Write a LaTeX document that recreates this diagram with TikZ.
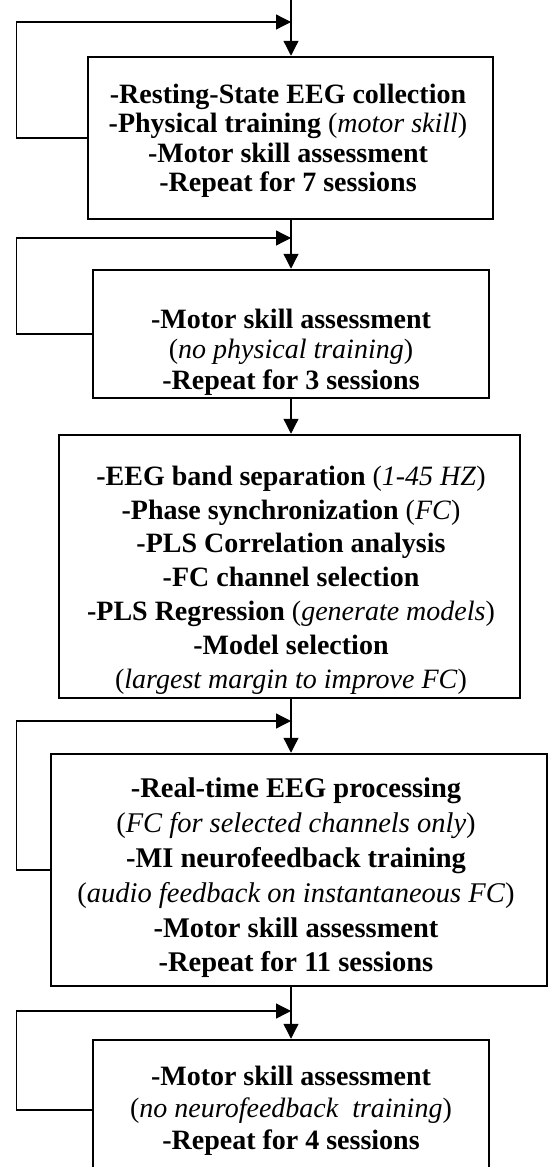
\documentclass[tikz,border=0pt]{standalone}
\usepackage{fontspec}
\setmainfont{Liberation Serif}
\usetikzlibrary{arrows.meta,calc}
\begin{document}
\begin{tikzpicture}[x=1pt,y=-1pt]
\tikzset{
  box/.style={draw, line width=2.5pt, inner sep=0pt},
  txt/.style={inner sep=0pt, align=center},
  arr/.style={line width=1.3pt, -{Triangle[length=15pt,width=15pt]}},
}
\useasboundingbox (0,0) rectangle (549,1167);
\clip (0,0) rectangle (549,1167);
\coordinate (start) at (291,0);
\coordinate (L) at (16.5,0);
\coordinate (j1) at (291,22);
\coordinate (j2) at (291,238);
\coordinate (j3) at (291,721);
\coordinate (j4) at (291,1011);

\node[box, minimum width=405, minimum height=162] (b1) at (290.5,138) {};
\node[txt, font=\fontsize{28}{29.5}\selectfont] (t1) at (288,141)
 {\textbf{-Resting-State EEG collection}\\
  \textbf{-Physical training} (\textit{motor skill})\\
  \textbf{-Motor skill assessment}\\
  \textbf{-Repeat for 7 sessions}};

\node[box, minimum width=396, minimum height=128] (b2) at (291,334) {};
\node[txt, font=\fontsize{28}{30.5}\selectfont] (t2) at (291,352)
 {\textbf{-Motor skill assessment}\\
  (\textit{no physical training})\\
  \textbf{-Repeat for 3 sessions}};

\node[box, minimum width=461, minimum height=263] (b3) at (289.5,566.5) {};
\node[txt, font=\fontsize{28}{33.8}\selectfont] (t3) at (291,580)
 {\textbf{-EEG band separation} (\textit{1-45 HZ})\\
  \textbf{-Phase synchronization} (\textit{FC})\\
  \textbf{-PLS Correlation analysis}\\
  \textbf{-FC channel selection}\\
  \textbf{-PLS Regression} (\textit{generate models})\\
  \textbf{-Model selection}\\
  (\textit{largest margin to improve FC})};

\node[box, minimum width=496, minimum height=232] (b4) at (299,870) {};
\node[txt, font=\fontsize{28.5}{34.8}\selectfont] (t4) at (296,878)
 {\textbf{-Real-time EEG processing}\\
  (\textit{FC for selected channels only})\\
  \textbf{-MI neurofeedback training}\\
  (\textit{audio feedback on instantaneous FC})\\
  \textbf{-Motor skill assessment}\\
  \textbf{-Repeat for 11 sessions}};

\node[box, minimum width=396, minimum height=140] (b5) at (291,1110) {};
\node[txt, font=\fontsize{28}{32}\selectfont] (t5) at (291,1111)
 {\textbf{-Motor skill assessment}\\
  (\textit{no neurofeedback\ \ training})\\
  \textbf{-Repeat for 4 sessions}};

\draw[arr] (start) -- (b1.north -| start);
\draw[arr] (b1.south -| start) -- (b2.north -| start);
\draw[arr] (b2.south -| start) -- (b3.north -| start);
\draw[arr] (b3.south -| start) -- (b4.north -| start);
\draw[arr] (b4.south -| start) -- (b5.north -| start);

\draw[arr] (b1.west) -- (b1.west -| L) |- (j1);
\draw[arr] (b2.west) -- (b2.west -| L) |- (j2);
\draw[arr] (b4.west) -- (b4.west -| L) |- (j3);
\draw[arr] (b5.west) -- (b5.west -| L) |- (j4);
\end{tikzpicture}
\end{document}
